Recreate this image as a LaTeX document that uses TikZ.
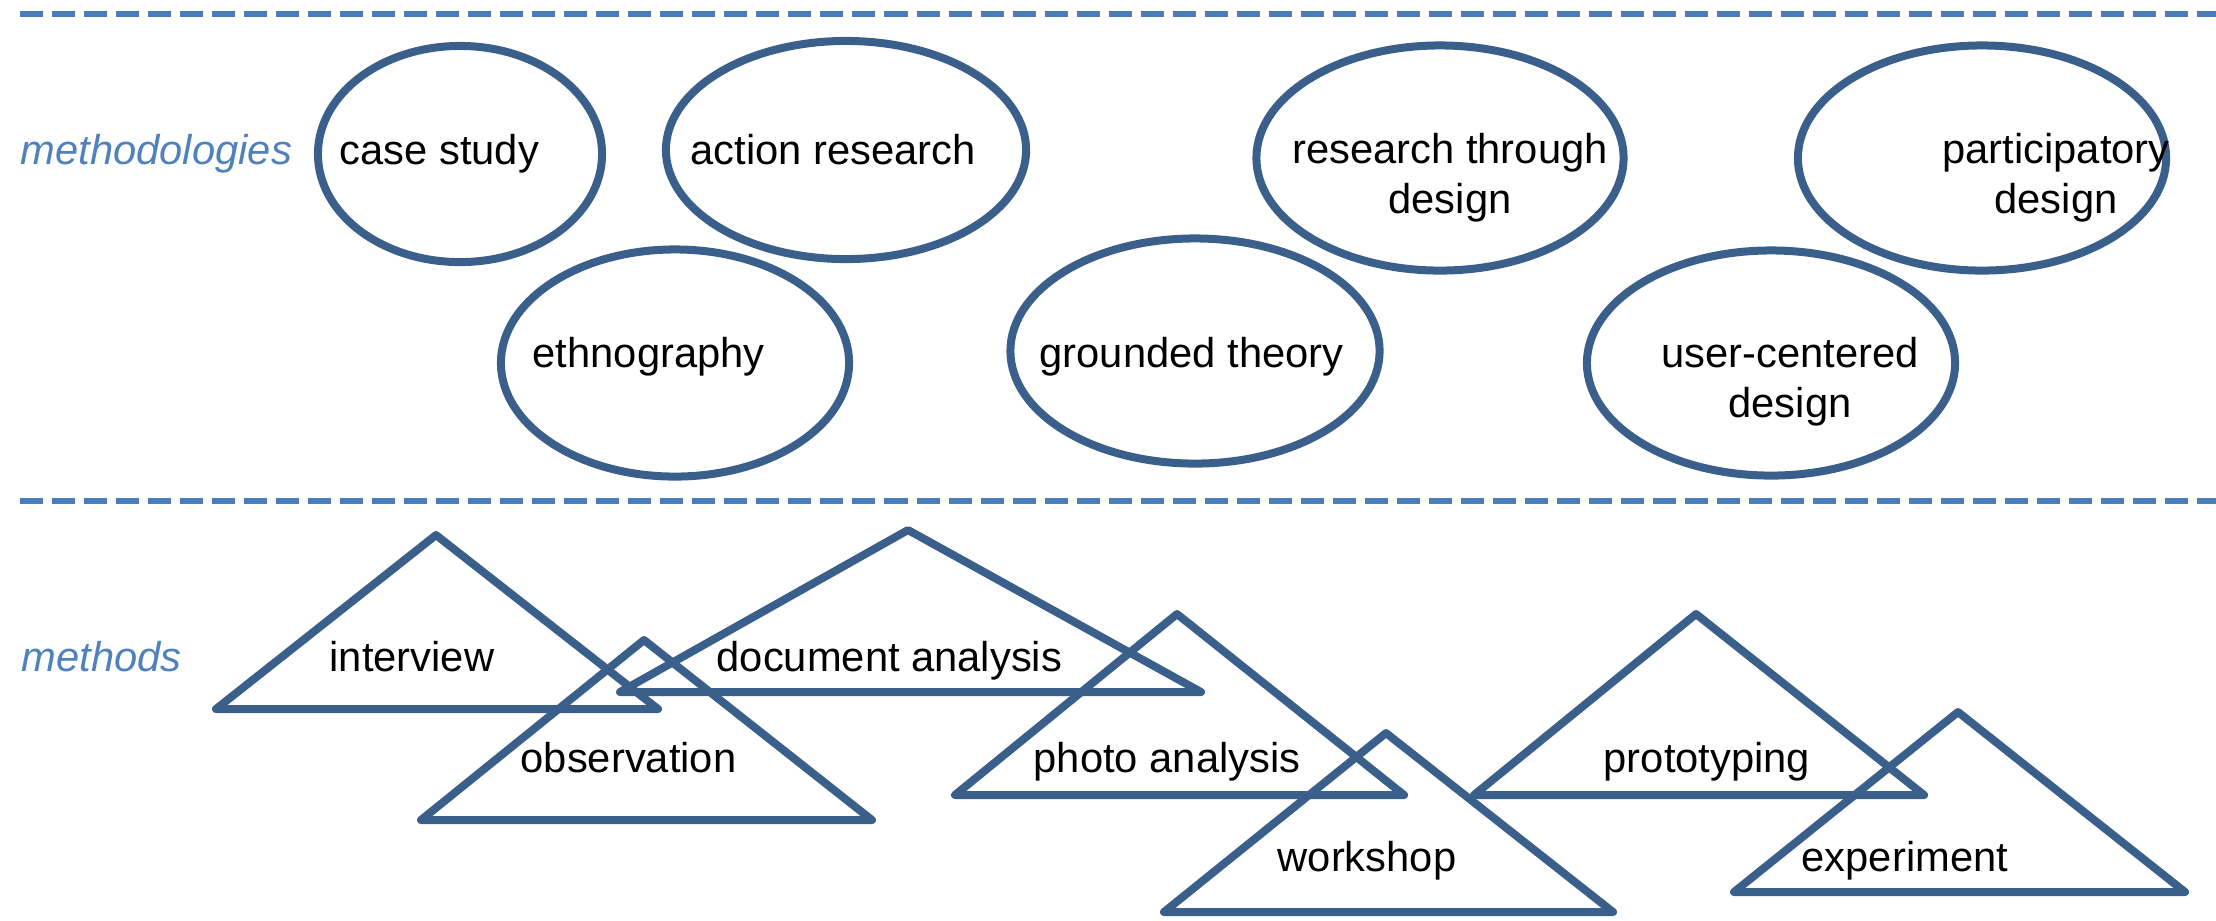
\documentclass[tikz,border=0pt]{standalone}
\usepackage{fontspec}
\setmainfont{Liberation Sans}
\usetikzlibrary{shapes.geometric}

\definecolor{layerblue}{HTML}{4A7EBB}
\definecolor{shapeblue}{HTML}{3A5F8B}
\definecolor{tagblue}{HTML}{4F81BD}

\tikzset{
  layer/.style={draw=layerblue,line width=0.065cm,dash pattern=on 0.23cm off 0.09cm},
  tag/.style={anchor=base west,inner sep=0pt,text=tagblue,font=\fontsize{11.86}{14.2}\selectfont\itshape},
  word/.style={anchor=base west,inner sep=0pt,font=\fontsize{11.86}{14.2}\selectfont},
  words/.style={anchor=base,inner sep=0pt,align=center,font=\fontsize{11.86}{14.2}\selectfont},
  tri/.style={draw=shapeblue,line width=0.08cm,line join=round}
}

\begin{document}
\begin{tikzpicture}[x=0.01cm,y=-0.01cm]
    \useasboundingbox (0,0) rectangle (2216,920);

    % layers
    \draw[layer] (20,14) -- (2216,14);
    \draw[layer] (20,501) -- (2216,501);
    \node[tag] (mlogies) at (20,164) {methodologies};
    \node[tag] (mods) at (21,671) {methods};

    % methodologies
    \begin{scope}[every node/.style={ellipse,draw=shapeblue,line width=0.08cm,inner sep=0pt}]
      \node[minimum width=2.84cm,minimum height=2.16cm] (cs) at (460,154) {};
      \node[minimum width=3.60cm,minimum height=2.18cm] (ar) at (846,150) {};
      \node[minimum width=3.48cm,minimum height=2.27cm] (eth) at (675,363) {};
      \node[minimum width=3.69cm,minimum height=2.25cm] (gt) at (1195,351) {};
      \node[minimum width=3.67cm,minimum height=2.25cm] (rtd) at (1440,158) {};
      \node[minimum width=3.68cm,minimum height=2.25cm] (pd) at (1982,158) {};
      \node[minimum width=3.68cm,minimum height=2.25cm] (ucd) at (1771,363) {};
    \end{scope}
    \node[word] (cs-t) at (339,164) {case study};
    \node[word] (ar-t) at (690,164) {action research};
    \node[word] (eth-t) at (532,367) {ethnography};
    \node[word] (gt-t) at (1039,367) {grounded theory};
    \node[words] (rtd-t) at (1450,213) {research through\\design};
    \node[words] (pd-t) at (2056,213) {participatory\\design};
    \node[words] (ucd-t) at (1790,417) {user-centered\\design};

    % methods
    \draw[tri] (216,709) -- (658,709) -- (436,535) -- cycle;
    \draw[tri] (421,820) -- (872,820) -- (644,640) -- cycle;
    \draw[tri] (620,692) -- (1201,692) -- (908,530) -- cycle;
    \draw[tri] (955,795) -- (1404,795) -- (1177,614) -- cycle;
    \draw[tri] (1164,912) -- (1613,912) -- (1386,733) -- cycle;
    \draw[tri] (1474,795) -- (1924,795) -- (1696,614) -- cycle;
    \draw[tri] (1734,892) -- (2185,892) -- (1958,712) -- cycle;
    \node[word] (iv) at (329,671) {interview};
    \node[word] (da) at (716,671) {document analysis};
    \node[word] (obs) at (520,772) {observation};
    \node[word] (pa) at (1033,772) {photo analysis};
    \node[word] (proto) at (1603,772) {prototyping};
    \node[word] (ws) at (1277,871) {workshop};
    \node[word] (exp) at (1801,871) {experiment};
  \end{tikzpicture}
\end{document}
